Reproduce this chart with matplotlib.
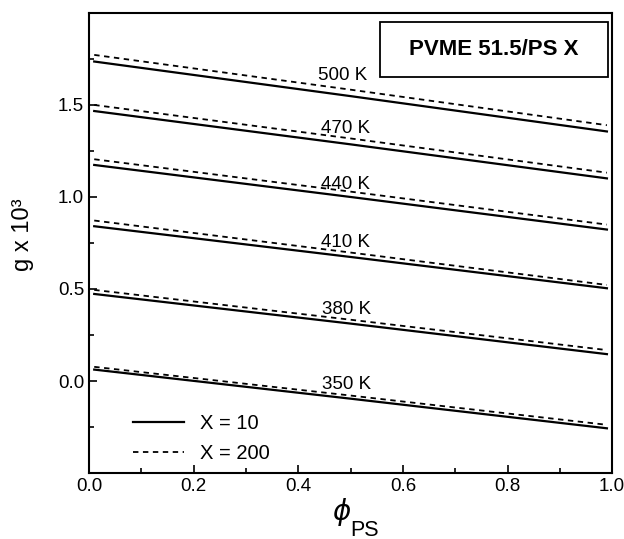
import numpy as np
import matplotlib.pyplot as plt
from matplotlib.patches import Rectangle

plt.rcParams['font.family'] = ['Liberation Sans', 'DejaVu Sans']
plt.rcParams['mathtext.fontset'] = 'dejavusans'

# composition of PS
phi = [0.01, 0.5, 0.99]

temps = ['500 K', '470 K', '440 K', '410 K', '380 K', '350 K']
# X = 10 (solid)
g_x10 = [
    [1.736, 1.548, 1.356],
    [1.467, 1.286, 1.101],
    [1.174, 1.000, 0.823],
    [0.841, 0.674, 0.504],
    [0.473, 0.312, 0.146],
    [0.062, -0.096, -0.257],
]
# X = 200 (dashed)
g_x200 = [
    [1.772, 1.583, 1.390],
    [1.500, 1.318, 1.132],
    [1.205, 1.029, 0.850],
    [0.872, 0.698, 0.522],
    [0.495, 0.333, 0.168],
    [0.077, -0.079, -0.238],
]
label_pos = [(0.484, 1.66), (0.49, 1.37), (0.49, 1.07), (0.49, 0.75), (0.493, 0.386), (0.493, -0.02)]

fig = plt.figure(figsize=(6.24, 5.39), dpi=100)
ax = fig.add_axes([0.1426, 0.1224, 0.8384, 0.8536])

for i in range(len(temps)):
    ax.plot(phi, g_x10[i], 'k-', lw=1.6, label='X = 10' if i == 0 else None)
    ax.plot(phi, g_x200[i], color='k', ls=(0, (3, 2.5)), lw=1.3,
            label='X = 200' if i == 0 else None)
    ax.text(label_pos[i][0], label_pos[i][1], temps[i], fontsize=13.5,
            ha='center', va='center')

ax.set_xlim(0, 1.0)
ax.set_ylim(-0.5, 2.0)
ax.set_xticks([0.0, 0.2, 0.4, 0.6, 0.8, 1.0])
ax.set_yticks([0.0, 0.5, 1.0, 1.5])
ax.set_xticks(np.arange(0.1, 1.0, 0.2), minor=True)
ax.set_yticks([-0.25, 0.25, 0.75, 1.25, 1.75], minor=True)
ax.tick_params(which='both', direction='in', labelsize=13.5, width=1.2)
ax.tick_params(which='major', length=6)
ax.tick_params(which='minor', length=3.5)
for s in ax.spines.values():
    s.set_linewidth(1.5)

# axis labels
fig.text(342 / 624, 1 - 512 / 539, r'$\phi$', fontsize=20, ha='center', va='center')
fig.text(350 / 624, 1 - 530 / 539, 'PS', fontsize=15.5, ha='left', va='center')
fig.text(23 / 624, 1 - 235 / 539, 'g x 10³', fontsize=17, rotation=90,
         ha='center', va='center')

# title box
ax.add_patch(Rectangle((0.556, 0.861), 0.436, 0.119, transform=ax.transAxes,
                       fc='white', ec='k', lw=1.3, zorder=3))
ax.text(0.774, 0.921, 'PVME 51.5/PS X', transform=ax.transAxes, fontsize=16,
        fontweight='bold', ha='center', va='center', zorder=4)

ax.legend(loc='lower left', bbox_to_anchor=(0.05, -0.018), frameon=False,
          fontsize=14.5, handlelength=2.5, handletextpad=0.8, labelspacing=0.55)

fig.savefig('out.png', dpi=100)
